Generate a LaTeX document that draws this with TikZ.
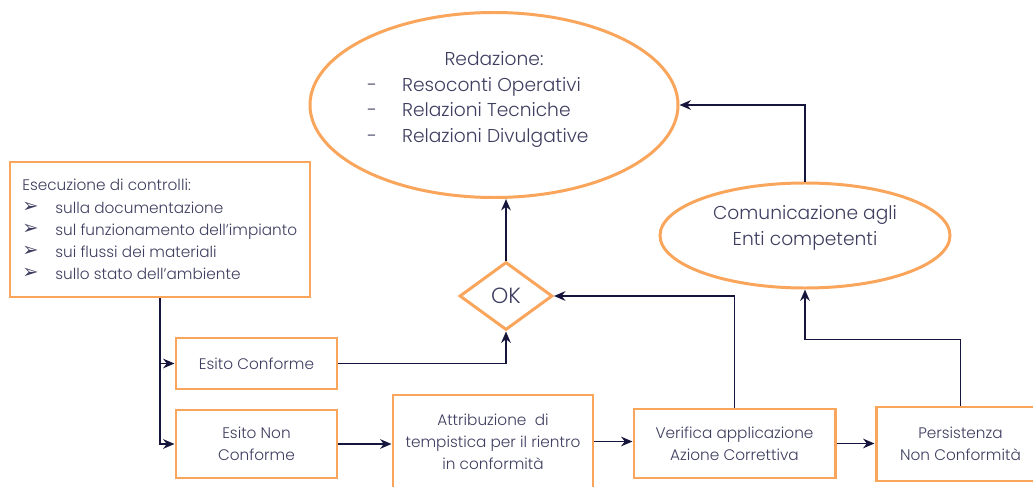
\documentclass[tikz,border=0pt]{standalone}
\usepackage{fontspec}
\setmainfont{Poppins Light}
\newfontfamily\symfont{DejaVu Sans}
\usetikzlibrary{shapes.geometric,arrows.meta}

\definecolor{bordo}{HTML}{F9A55C}
\definecolor{testo}{HTML}{3E3E60}
\definecolor{freccia}{HTML}{16163C}
\newcommand{\punto}{\makebox[0.66cm][l]{\symfont\fontsize{11}{11}\selectfont\raisebox{0.3pt}{➢}}}

\begin{document}
\begin{tikzpicture}[font=\fontsize{8.7}{12.6}\selectfont,text=testo,
  blocco/.style={draw=bordo,line width=1.7pt,fill=white,align=center,inner sep=0pt},
  ovale/.style={blocco,ellipse,font=\fontsize{10.6}{14.7}\selectfont},
  rombo/.style={blocco,diamond,aspect=1.37,minimum width=1.86cm,minimum height=1.36cm},
  collega/.style={draw=freccia,line width=1pt,-{Stealth[length=6.5pt,width=5.5pt]}}]

\useasboundingbox (0,0) rectangle (20.66,9.72);
\clip (0,0) rectangle (20.66,9.72);

% ellissi
\node[ovale,minimum width=7.36cm,minimum height=3.7cm] (red) at (9.88,7.62)
  {\raisebox{3.5pt}[\height][\depth]{\begin{tabular}{@{}l@{\hspace{0.5cm}}l@{\hspace{0.64cm}}}
   \multicolumn{2}{c}{Redazione:}\\
   - & Resoconti Operativi\\
   - & Relazioni Tecniche\\
   - & Relazioni Divulgative
   \end{tabular}}};
\node[ovale,minimum width=5.8cm,minimum height=2.1cm] (com) at (16.1,5.01)
  {\raisebox{4.5pt}[\height][\depth]{\begin{tabular}{@{}c@{}}Comunicazione agli\\Enti competenti\end{tabular}}};

% controlli
\node[blocco,minimum width=6cm,minimum height=2.7cm] (ese) at (3.2,5.13) {};
\node[anchor=west,align=left,inner sep=0pt] at (0.44,5.13)
  {Esecuzione di controlli:\\
   \punto sulla documentazione\\
   \punto sul funzionamento dell'impianto\\
   \punto sui flussi dei materiali\\
   \punto sullo stato dell'ambiente};

\node[rombo] (ok) at (10.12,3.8) {\fontsize{12.5}{12.5}\selectfont OK};

% riquadri
\node[blocco,minimum width=3.22cm,minimum height=1.02cm] (conf) at (5.13,2.45) {Esito Conforme};
\node[blocco,minimum width=3.22cm,minimum height=1.36cm] (nonconf) at (5.13,0.84) {Esito Non\\Conforme};
\node[blocco,minimum width=4cm,minimum height=1.86cm] (attr) at (9.86,0.89)
  {Attribuzione\ \ di\\tempistica per il rientro\\in conformità};
\node[blocco,minimum width=4.02cm,minimum height=1.38cm] (ver) at (14.69,0.85)
  {Verifica applicazione\\Azione Correttiva};
\node[blocco,minimum width=3.38cm,minimum height=1.48cm] (pers) at (19.21,0.84)
  {Persistenza\\Non Conformità};

% frecce
\draw[collega] (ese.south) |- (conf.west);
\draw[collega] (ese.south) |- (nonconf.west);
\draw[collega] (conf.east) -| (ok.south);
\draw[collega] (ok.north) -- (ok.north |- red.south);
\draw[collega] (nonconf.east) -- (nonconf.east -| attr.west);
\draw[collega] (attr.east) -- (attr.east -| ver.west);
\draw[collega] (ver.north) |- (ok.east);
\draw[collega] (ver.east) -- (ver.east -| pers.west);
\draw[collega] (pers.north) -- ++(0,1.32) -| (com.south);
\draw[collega] (com.north) |- (red.east);

\end{tikzpicture}
\end{document}
